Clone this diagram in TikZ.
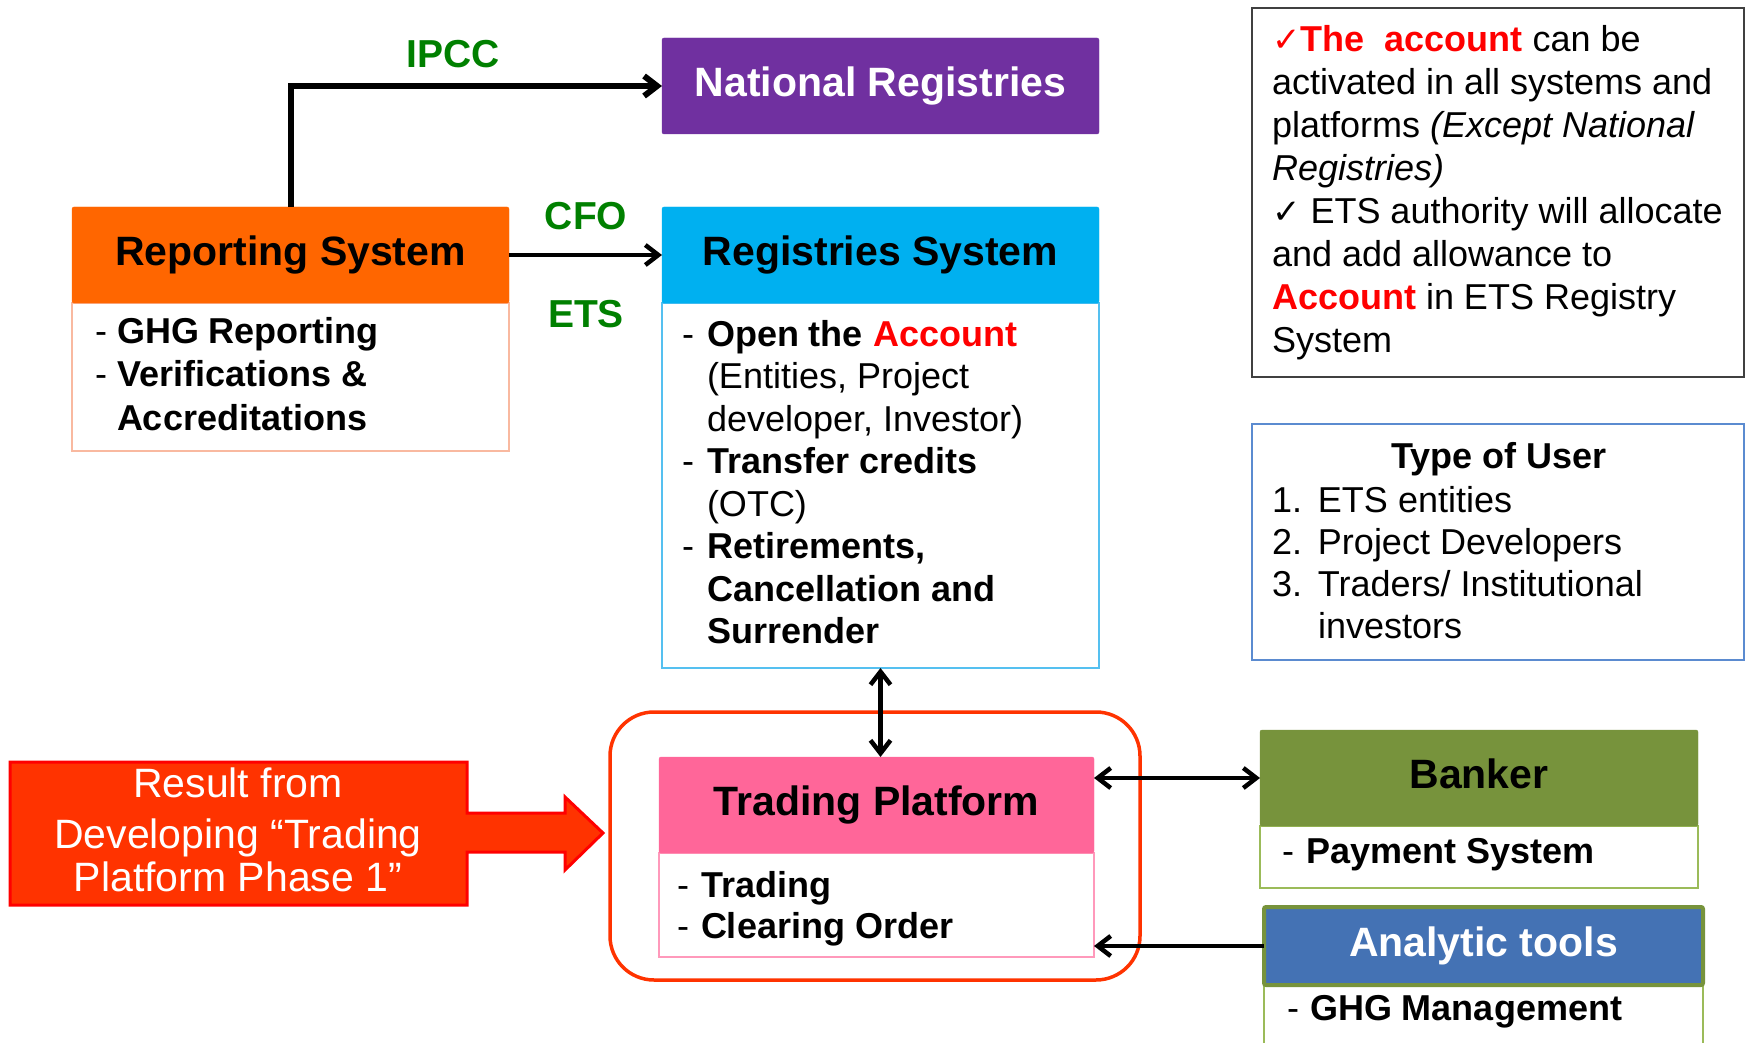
\documentclass[tikz,border=0pt]{standalone}
\usepackage{fontspec}
\setmainfont{Liberation Sans}
\newfontfamily\symfont{DejaVu Sans}
\usetikzlibrary{arrows.meta}

\definecolor{cOrange}{HTML}{FF6600}
\definecolor{cSalmon}{HTML}{F9B9A0}
\definecolor{cPurple}{HTML}{7030A0}
\definecolor{cCyan}{HTML}{00B0F0}
\definecolor{cCyanLine}{HTML}{55C0F0}
\definecolor{cPink}{HTML}{FF6699}
\definecolor{cPinkLine}{HTML}{FF99BB}
\definecolor{cFrame}{HTML}{FF3300}
\definecolor{cOlive}{HTML}{77933C}
\definecolor{cOliveLine}{HTML}{9BBB59}
\definecolor{cSteel}{HTML}{4472B4}
\definecolor{cGreen}{HTML}{008000}
\definecolor{cRed}{HTML}{FF0000}
\definecolor{cBlockFill}{HTML}{FF3300}
\definecolor{cNote}{HTML}{404040}
\definecolor{cUser}{HTML}{5B8BD0}

\newcommand{\chk}{{\symfont\fontsize{34}{43}\selectfont ✓}}

\begin{document}
\begin{tikzpicture}[x=1pt,y=-1pt,
  every node/.style={inner sep=0pt, outer sep=0pt},
  hdr/.style={draw=#1, fill=#1, rounded corners=2pt, anchor=north west,
    minimum height=96pt, text height=30pt, text depth=9pt,
    font=\fontsize{41}{49}\selectfont\bfseries},
  bodybox/.style={draw=#1, fill=white, line width=2pt, anchor=north west},
  txt/.style={anchor=base west},
  lbl/.style={anchor=base, text=cGreen, font=\fontsize{39}{47}\selectfont\bfseries},
  tipA/.tip={Straight Barb[length=13pt,width=20pt]},
  arr/.style={line width=4.5pt, -tipA},
  darr/.style={line width=4.5pt, tipA-tipA},
]
\path[use as bounding box] (0,0) rectangle (1746,1043);

% ---------- Reporting System ----------
\node[bodybox=cSalmon, minimum width=437pt, minimum height=148pt] (repbody) at (72,303) {};
\node[hdr=cOrange, minimum width=437pt] (rephead) at (72,207) {Reporting System};
\node[txt] (reptxt) at (95,343) {\fontsize{36}{43.5}\selectfont
  \begin{tabular}[t]{@{}p{22pt}@{}l@{}}
  -&\textbf{GHG Reporting}\\
  -&\textbf{Verifications \&}\\
   &\textbf{Accreditations}
  \end{tabular}};

% ---------- National Registries ----------
\node[hdr=cPurple, text=white, minimum width=437pt] (natreg) at (662,38) {National Registries};

% ---------- Registries System ----------
\node[bodybox=cCyanLine, minimum width=437pt, minimum height=365pt] (regbody) at (662,303) {};
\node[hdr=cCyan, minimum width=437pt] (reghead) at (662,207) {Registries System};
\node[txt] (regtxt) at (682,346) {\fontsize{36}{42.5}\selectfont
  \begin{tabular}[t]{@{}p{25pt}@{}l@{}}
  -&\textbf{Open the \textcolor{cRed}{Account}}\\
   &(Entities, Project\\
   &developer, Investor)\\
  -&\textbf{Transfer credits}\\
   &(OTC)\\
  -&\textbf{Retirements,}\\
   &\textbf{Cancellation and}\\
   &\textbf{Surrender}
  \end{tabular}};

% ---------- flow labels ----------
\node[lbl] (ipcc) at (453,68) {IPCC};
\node[lbl] (cfo) at (586,230) {CFO};
\node[lbl] (ets) at (586,327) {ETS};

% ---------- Trading Platform ----------
\node[draw=cFrame, line width=3.5pt, rounded corners=44pt, anchor=north west,
  minimum width=530pt, minimum height=268pt] (tpframe) at (610,712) {};
\node[bodybox=cPinkLine, minimum width=435pt, minimum height=104pt] (tpbody) at (659,853) {};
\node[hdr=cPink, minimum width=435pt] (tphead) at (659,757) {Trading Platform};
\node[txt] (tptxt) at (677,897) {\fontsize{36}{41}\selectfont
  \begin{tabular}[t]{@{}p{24pt}@{}l@{}}
  -&\textbf{Trading}\\
  -&\textbf{Clearing Order}
  \end{tabular}};

% ---------- Banker ----------
\node[bodybox=cOliveLine, line width=2.5pt, minimum width=438pt, minimum height=62pt] (bankbody) at (1260,826) {};
\node[hdr=cOlive, minimum width=438pt] (bankhead) at (1260,730) {Banker};
\node[txt] (banktxt) at (1282,863) {\fontsize{36}{43}\selectfont
  \begin{tabular}[t]{@{}p{24pt}@{}l@{}}
  -&\textbf{Payment System}
  \end{tabular}};

% ---------- Analytic tools ----------
\node[fill=white, anchor=north west, minimum width=439pt, minimum height=58pt] (anabody) at (1264,985) {};
\draw[cOliveLine, line width=2.5pt] (anabody.south west) -- (anabody.north west)
  -- (anabody.north east) -- (anabody.south east);
\node[hdr=cSteel, draw=cOlive, line width=4pt, text=white, minimum width=439pt,
  minimum height=78pt] (anahead) at (1264,907) {Analytic tools};
\node[txt] (anatxt) at (1287,1020) {\fontsize{36}{43}\selectfont
  \begin{tabular}[t]{@{}p{23pt}@{}l@{}}
  -&\textbf{GHG Management}
  \end{tabular}};

% ---------- note box ----------
\node[draw=cNote, line width=2.5pt, anchor=north west, minimum width=492pt,
  minimum height=369pt] (note) at (1252,8) {};
\node[txt] (notetxt) at (1272,52) {\fontsize{36}{43}\selectfont
  \begin{tabular}[t]{@{}l@{}}
  \textcolor{cRed}{\chk}\textcolor{cRed}{\bfseries The\ \ account} can be\\
  activated in all systems and\\
  platforms \textit{(Except National}\\
  \textit{Registries)}\\
  \chk\ ETS authority will allocate\\
  and add allowance to\\
  \textcolor{cRed}{\bfseries Account} in ETS Registry\\
  System
  \end{tabular}};

% ---------- user types ----------
\node[draw=cUser, line width=2.5pt, anchor=north west, minimum width=492pt,
  minimum height=236pt] (usr) at (1252,424) {};
\node[anchor=base, font=\fontsize{36}{43}\selectfont\bfseries] (usrhead) at (1499,468) {Type of User};
\node[txt] (usrtxt) at (1272,512) {\fontsize{36}{42}\selectfont
  \begin{tabular}[t]{@{}p{46pt}@{}l@{}}
  1.&ETS entities\\
  2.&Project Developers\\
  3.&Traders/ Institutional\\
    &investors
  \end{tabular}};

% ---------- block arrow ----------
\path[fill=cBlockFill, draw=cRed, line width=3pt, line join=miter]
  (10,762) -- (467,762) -- (467,813) -- (565,813) -- (565,797) -- (603,833)
  -- (565,870) -- (565,852) -- (467,852) -- (467,905) -- (10,905) -- cycle;
\node[anchor=base, text=white] (blocktxt) at (238,797) {\fontsize{41}{43}\selectfont
  \begin{tabular}[t]{@{}c@{}}
  Result from\\[8pt]
  Developing “Trading\\
  Platform Phase 1”
  \end{tabular}};

% ---------- connectors ----------
\draw[arr, line width=6pt] (rephead.north) |- (natreg.west);
\draw[arr] (rephead.east) -- (reghead.west);
\draw[darr] (regbody.south) -- (regbody.south |- tphead.north);
\draw[darr] (bankhead.west -| tphead.east) -- (bankhead.west);
\draw[arr] (anahead.west) -- (anahead.west -| tpbody.east);
\end{tikzpicture}
\end{document}
